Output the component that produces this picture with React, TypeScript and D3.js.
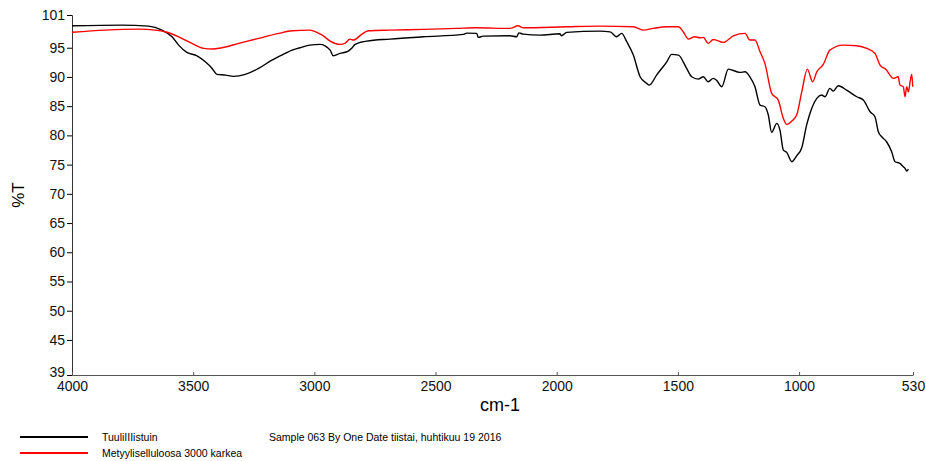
import React, { useEffect, useRef } from "react";
import * as d3 from "d3";

// sample 1 (black)
const blackWn = [4000, 3794, 3684, 3629, 3587, 3560, 3526, 3484, 3450, 3422, 3402, 3367, 3333, 3285, 3230, 3175, 3120, 3092, 3059, 3018, 2977, 2956, 2935, 2922, 2894, 2860, 2846, 2832, 2784, 2688, 2550, 2386, 2372, 2330, 2324, 2303, 2193, 2165, 2156, 2138, 2069, 1987, 1980, 1959, 1822, 1780, 1753, 1732, 1711, 1684, 1656, 1629, 1618, 1588, 1546, 1526, 1498, 1464, 1443, 1416, 1395, 1375, 1354, 1340, 1319, 1292, 1244, 1223, 1203, 1182, 1161, 1141, 1127, 1113, 1092, 1079, 1065, 1051, 1030, 1010, 989, 969, 948, 927, 907, 893, 873, 859, 838, 804, 762, 735, 707, 687, 673, 659, 639, 618, 604, 584, 570, 563, 556, 549];
const blackT = [98.75, 98.87, 98.7, 98.02, 96.87, 95.45, 94.2, 93.62, 92.59, 91.46, 90.44, 90.32, 90.1, 90.44, 91.46, 92.88, 94.03, 94.59, 94.99, 95.45, 95.57, 95.33, 94.59, 93.62, 94.03, 94.42, 94.89, 95.57, 96.13, 96.48, 96.87, 97.28, 97.5, 97.45, 96.77, 96.99, 97.04, 96.87, 97.55, 97.33, 97.16, 97.38, 97.04, 97.62, 97.84, 97.72, 96.87, 97.45, 96.02, 93.74, 90.03, 88.9, 88.61, 90.32, 92.59, 93.86, 93.74, 91.46, 90.03, 89.63, 90.03, 89.17, 89.75, 89.41, 88.32, 91.34, 90.78, 90.88, 90.03, 88.32, 85.19, 84.9, 83.48, 80.52, 82.06, 80.91, 77.49, 77.1, 75.49, 76.51, 77.88, 81.77, 84.62, 86.33, 86.9, 86.61, 88.04, 87.58, 88.49, 87.75, 86.61, 86.04, 84.04, 83.19, 80.62, 79.76, 78.91, 77.2, 75.49, 75.21, 74.63, 74.36, 73.9, 74.24];

// sample 2 (red)
const redWn = [4000, 3863, 3725, 3656, 3615, 3560, 3505, 3457, 3422, 3381, 3312, 3230, 3147, 3092, 3018, 2990, 2963, 2935, 2894, 2874, 2853, 2839, 2805, 2777, 2688, 2551, 2413, 2330, 2193, 2159, 2138, 1959, 1822, 1684, 1643, 1602, 1546, 1498, 1478, 1457, 1430, 1409, 1395, 1375, 1354, 1313, 1271, 1223, 1203, 1182, 1161, 1141, 1113, 1086, 1065, 1051, 1030, 1010, 989, 966, 944, 927, 900, 873, 818, 762, 721, 687, 666, 639, 625, 611, 591, 584, 570, 563, 556, 549, 542, 535, 531];
const redT = [97.65, 98.02, 98.19, 98.02, 97.73, 96.87, 95.74, 94.89, 94.77, 94.99, 95.74, 96.6, 97.45, 97.9, 98.02, 97.62, 97.04, 96.13, 95.57, 95.74, 96.48, 96.31, 97.28, 97.9, 98.02, 98.14, 98.31, 98.41, 98.31, 98.75, 98.41, 98.58, 98.7, 98.58, 98.02, 98.31, 98.58, 98.58, 97.73, 96.48, 96.87, 96.7, 96.77, 95.74, 96.42, 95.91, 97.04, 97.45, 96.31, 96.31, 94.3, 92.32, 87.19, 86.04, 82.91, 81.89, 82.45, 83.48, 87.46, 91.34, 89.17, 90.88, 92.15, 94.59, 95.45, 95.33, 94.89, 94.03, 92.03, 91.17, 90.32, 89.75, 90.03, 88.61, 88.32, 86.61, 88.32, 87.46, 89.17, 90.44, 88.32];

const xTicks = [4000, 3500, 3000, 2500, 2000, 1500, 1000, 530];
const yTicks = [39, 45, 50, 55, 60, 65, 70, 75, 80, 85, 90, 95, 100.6];
const seriesNames = ["TuuliIIIistuin", "Metyyliselluloosa 3000 karkea"];
const seriesColors = ["#000000", "#ff0000"];
const infoText = "Sample 063 By One Date tiistai, huhtikuu 19 2016";

const App: React.FC = () => {
  const ref = useRef<SVGSVGElement>(null);

  useEffect(() => {
    if (!ref.current) return;
    const svg = d3.select(ref.current);
    svg.selectAll("*").remove();

    const left = 72;
    const right = 913;
    const top = 15;
    const bottom = 375;
    const font = "Arial, 'Liberation Sans', sans-serif";

    const x = d3.scaleLinear().domain([4000, 530]).range([left, right]);
    const y = d3.scaleLinear().domain([39, 100.6]).range([bottom, top]);

    const yAxis = svg
      .append("g")
      .attr("transform", `translate(${left},0)`)
      .call(
        d3
          .axisLeft(y)
          .tickValues(yTicks)
          .tickSize(5)
          .tickPadding(2)
          .tickFormat((d) => String(Math.round(+d)))
      );
    yAxis.select(".domain").attr("stroke", "#333");
    yAxis.selectAll("text").attr("font-size", 14).attr("font-family", font).attr("fill", "#111");
    // bottom label sits a little above its tick, clear of the x labels
    yAxis
      .selectAll<SVGTextElement, number>("text")
      .filter((d) => d === 39)
      .attr("dy", "0.1em");

    const xAxis = svg
      .append("g")
      .attr("transform", `translate(0,${bottom})`)
      .call(
        d3
          .axisBottom(x)
          .tickValues(xTicks)
          .tickSizeInner(-3)
          .tickSizeOuter(0)
          .tickPadding(6)
          .tickFormat(d3.format("d"))
      );
    xAxis.select(".domain").attr("stroke", "#555");
    xAxis.selectAll("line").attr("stroke", "#555");
    xAxis.selectAll("text").attr("font-size", 14).attr("font-family", font).attr("fill", "#111");

    const line = d3
      .line<[number, number]>()
      .x((d) => x(d[0]))
      .y((d) => y(d[1]))
      .curve(d3.curveMonotoneX);

    const series = [
      d3.zip(blackWn, blackT) as [number, number][],
      d3.zip(redWn, redT) as [number, number][],
    ];

    series.forEach((s, i) => {
      svg
        .append("path")
        .datum(s)
        .attr("fill", "none")
        .attr("stroke", seriesColors[i])
        .attr("stroke-width", 1.4)
        .attr("d", line);
    });

    svg
      .append("text")
      .attr("transform", `translate(24,${(top + bottom) / 2}) rotate(-90)`)
      .attr("text-anchor", "middle")
      .attr("font-size", 17)
      .attr("font-family", font)
      .text("%T");

    svg
      .append("text")
      .attr("x", 500)
      .attr("y", 411)
      .attr("text-anchor", "middle")
      .attr("font-size", 18)
      .attr("font-family", font)
      .text("cm-1");

    const legend = svg.append("g");
    seriesNames.forEach((name, i) => {
      const ly = 437 + i * 16;
      legend
        .append("line")
        .attr("x1", 20)
        .attr("x2", 88)
        .attr("y1", ly)
        .attr("y2", ly)
        .attr("stroke", seriesColors[i])
        .attr("stroke-width", 2);
      legend
        .append("text")
        .attr("x", 102)
        .attr("y", ly + 4)
        .attr("font-size", 10.5)
        .attr("font-family", font)
        .text(name);
    });
    legend
      .append("text")
      .attr("x", 269)
      .attr("y", 441)
      .attr("font-size", 10.5)
      .attr("font-family", font)
      .text(infoText);
  }, []);

  return (
    <svg
      ref={ref}
      width={926}
      height={461}
      style={{ position: "absolute", left: 0, top: 0, background: "#fff" }}
    />
  );
};

export default App;
